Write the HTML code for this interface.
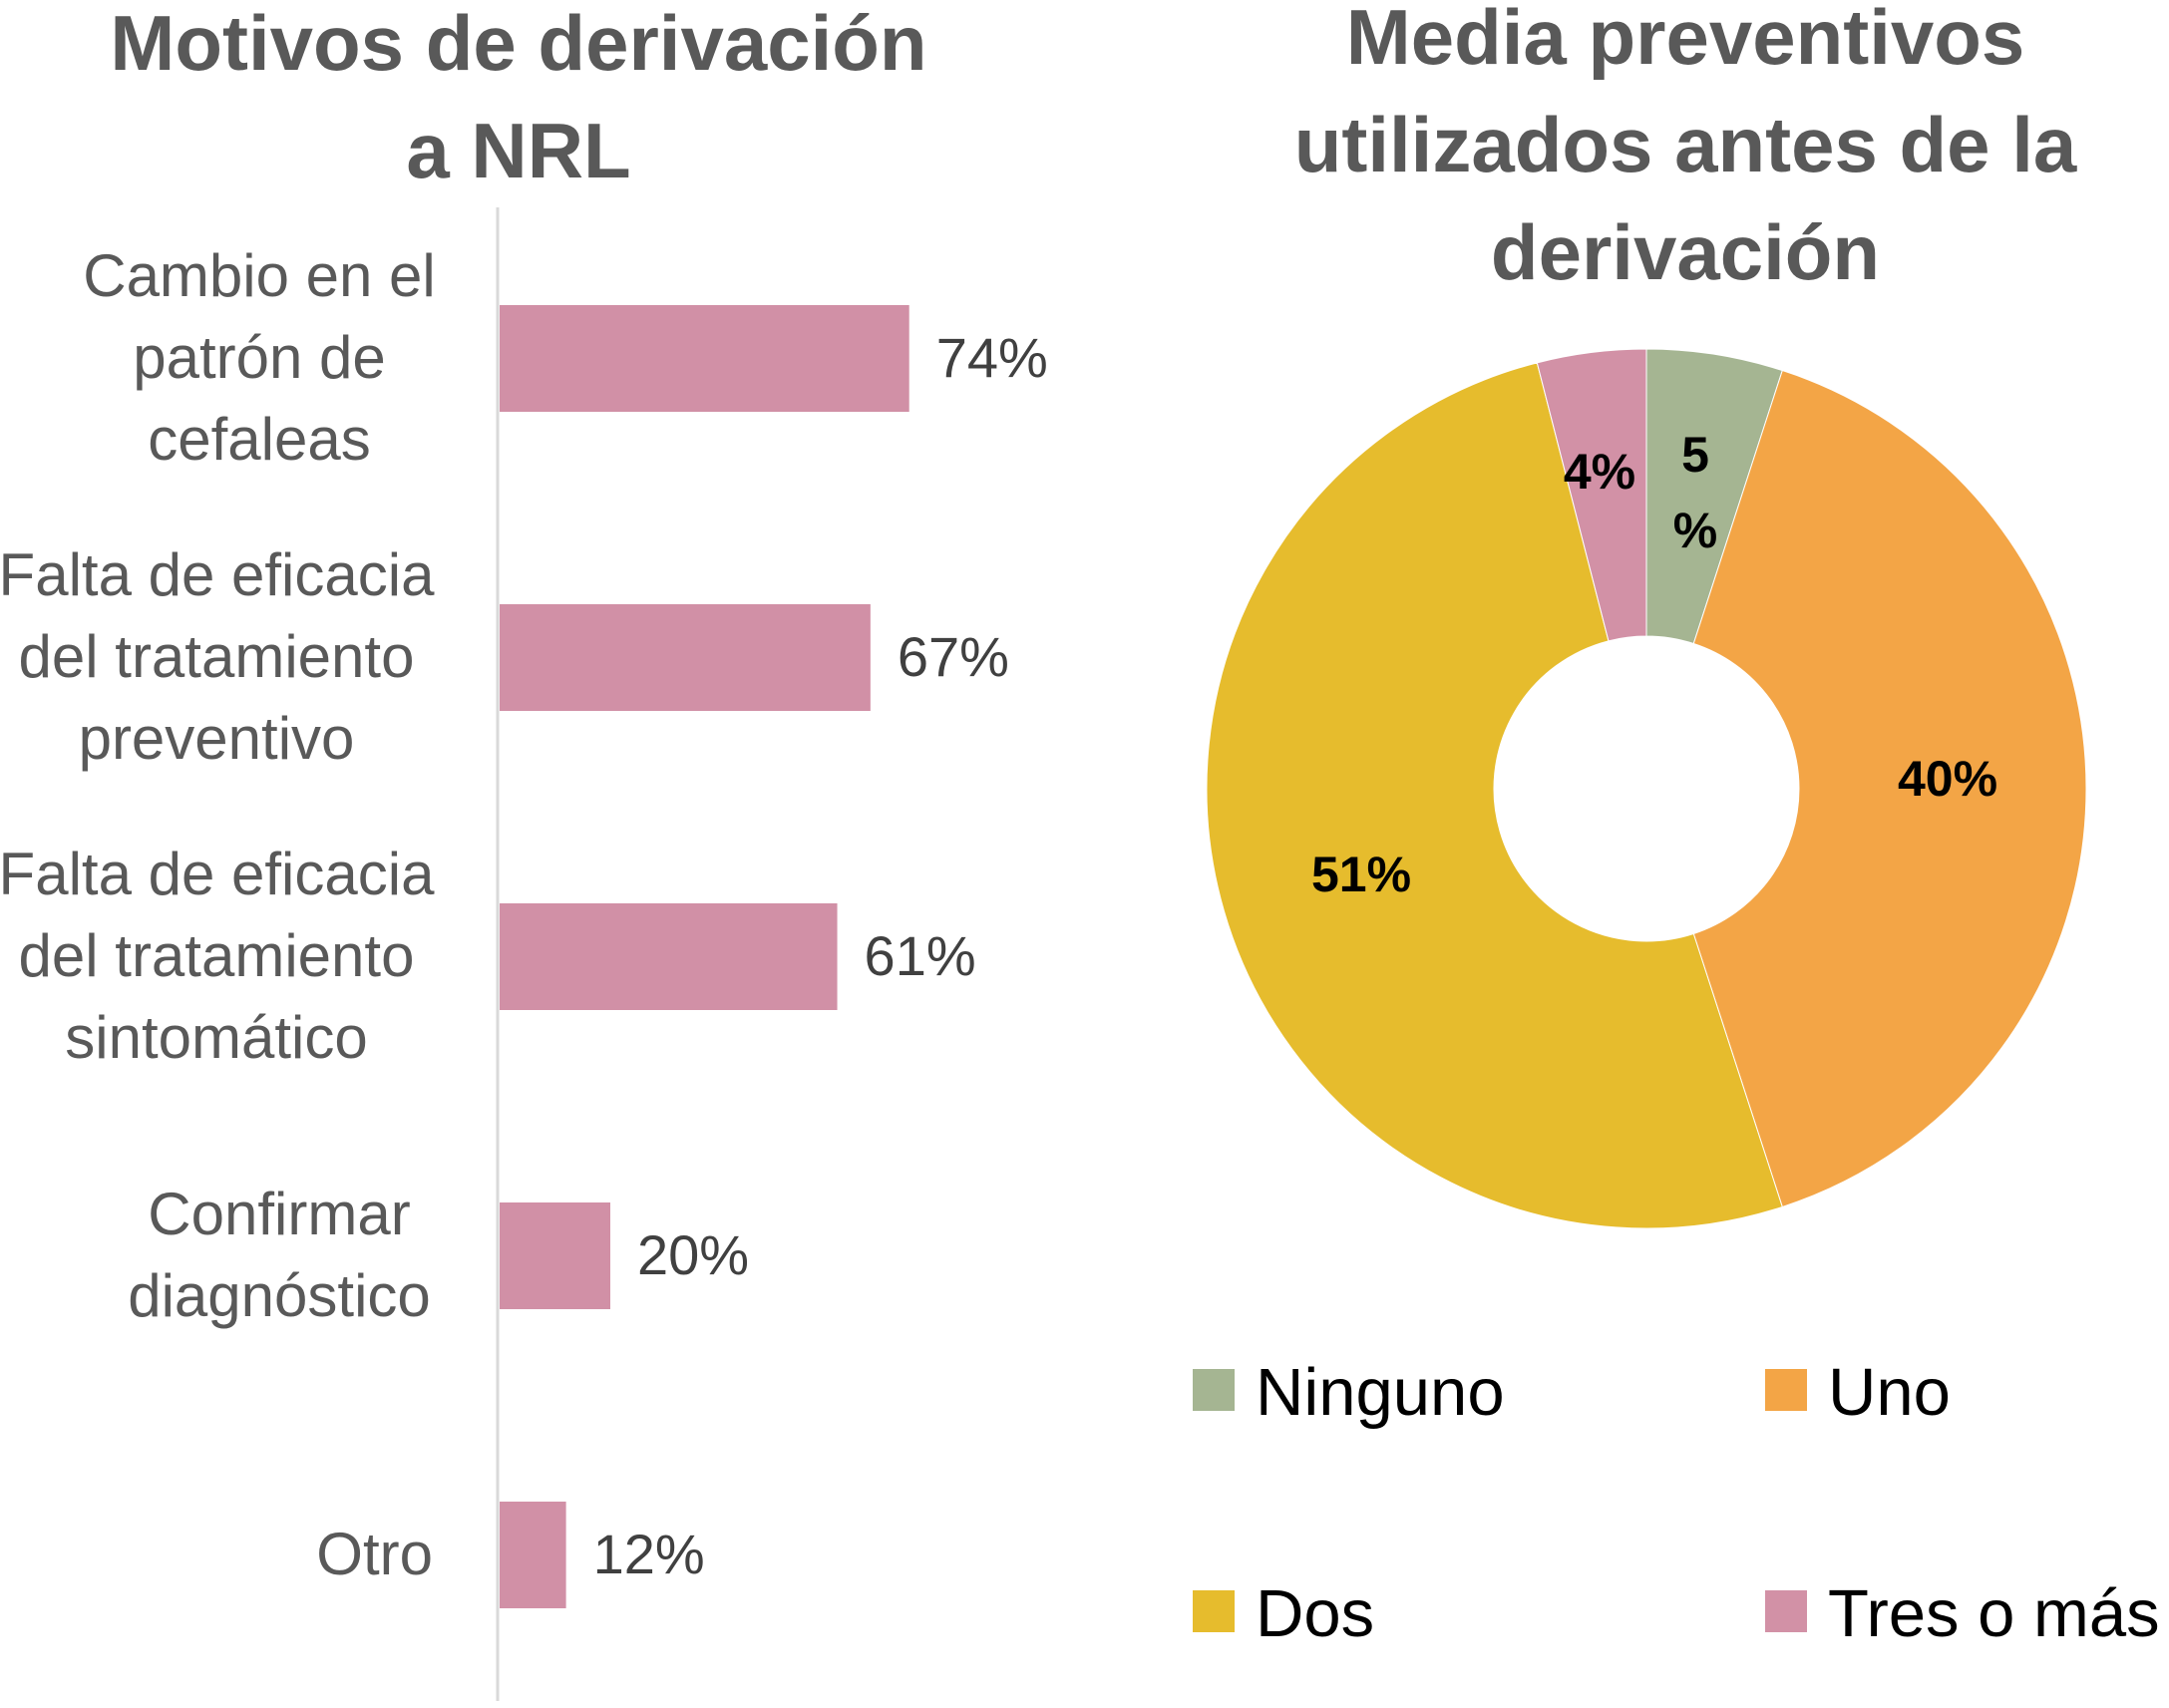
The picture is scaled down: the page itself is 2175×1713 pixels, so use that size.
<!DOCTYPE html>
<html><head><meta charset="utf-8"><style>
html,body{margin:0;padding:0;background:#fff;}
svg{display:block;font-family:"Liberation Sans",sans-serif;}
</style></head><body>
<svg id="c" width="2175" height="1713" viewBox="0 0 2175 1713" xmlns="http://www.w3.org/2000/svg">
<text x="520" y="70" text-anchor="middle" font-size="78" font-weight="bold" fill="#595959"><tspan x="520">Motivos de derivación</tspan><tspan x="520" dy="108">a NRL</tspan></text>
<text x="1690" y="64" text-anchor="middle" font-size="78" font-weight="bold" fill="#595959"><tspan x="1690">Media preventivos</tspan><tspan x="1690" dy="108">utilizados antes de la</tspan><tspan x="1690" dy="108">derivación</tspan></text>
<line x1="499" y1="208" x2="499" y2="1706" stroke="#d9d9d9" stroke-width="3"/>
<g id="bars"></g>
<g id="donut"></g>
<g id="legend"></g>
</svg>
<script>
const categories=[["Cambio en el","patrón de","cefaleas"],["Falta de eficacia","del tratamiento","preventivo"],["Falta de eficacia","del tratamiento","sintomático"],["Confirmar","diagnóstico"],["Otro"]];
const barValues=[74,67,61,20,12];
const barLabels=["74%","67%","61%","20%","12%"];
const pieNames=["Ninguno","Uno","Dos","Tres o más"];
const pieValues=[5,40,51,4];
const pieLabels=[["5","%"],["40%"],["51%"],["4%"]];
const pieColors=["#a5b592","#f3a546","#e6bc2d","#d291a6"];
const NS="http://www.w3.org/2000/svg";
function mk(t,a,p){const e=document.createElementNS(NS,t);for(const k in a)e.setAttribute(k,a[k]);p.appendChild(e);return e;}
const x=v=>501+v*5.55;
const y=i=>359+i*300;
const bars=document.getElementById('bars');
barValues.forEach((v,i)=>{
 const r=mk('rect',{x:501,y:y(i)-53,width:x(v)-501,height:107,fill:'#d190a6'},bars);
 
 
 const t=mk('text',{x:x(v)+27,y:y(i)+19,'font-size':56,fill:'#404040'},bars);
 t.textContent=barLabels[i];
 
 
 const lines=categories[i];
 const c=mk('text',{'text-anchor':'middle','font-size':60,fill:'#595959'},bars);
 
 
 const cx=lines.length==1?380:(lines.length==2?280:(lines[0].length>14?217:260));
 lines.forEach((l,j)=>{const s=mk('tspan',{x:lines.length==1?434:cx,y:y(i)+20+(j-(lines.length-1)/2)*82},c);if(lines.length==1)c.setAttribute('text-anchor','end');s.textContent=l;});
});
const cx=1651,cy=791,R=441,r0=153;
const donut=document.getElementById('donut');
const total=pieValues.reduce((a,b)=>a+b,0);
let a0=0;
const lblPos=[[1700,511],[1953,798],[1365,894],[1604,490]];
pieValues.forEach((v,i)=>{
 const a1=a0+v/total*2*Math.PI;
 const p=(a,rr)=>[cx+rr*Math.sin(a),cy-rr*Math.cos(a)];
 const [x1,y1]=p(a0,R),[x2,y2]=p(a1,R),[x3,y3]=p(a1,r0),[x4,y4]=p(a0,r0);
 const lg=(a1-a0)>Math.PI?1:0;
 const path=mk('path',{d:`M${x1},${y1}A${R},${R} 0 ${lg} 1 ${x2},${y2}L${x3},${y3}A${r0},${r0} 0 ${lg} 0 ${x4},${y4}Z`,fill:pieColors[i],stroke:'#fff','stroke-width':1},donut);
 
 
 const t=mk('text',{'text-anchor':'middle','font-size':50,'font-weight':'bold',fill:'#000'},donut);
 
 
 pieLabels[i].forEach((l,j)=>{const s=mk('tspan',{x:lblPos[i][0],y:lblPos[i][1]+(j-(pieLabels[i].length-1)/2)*76},t);s.textContent=l;});
 a0=a1;
});
const legend=document.getElementById('legend');
const lp=[[1196,1394],[1770,1394],[1196,1616],[1770,1616]];
pieNames.forEach((n,i)=>{
 const g=mk('g',{},legend);
 
 
 mk('rect',{x:lp[i][0],y:lp[i][1]-21,width:42,height:42,fill:pieColors[i]},g);
 const t=mk('text',{x:lp[i][0]+63,y:lp[i][1]+25,'font-size':67,fill:'#000'},g);
 t.textContent=n;
});
</script>
</body></html>
